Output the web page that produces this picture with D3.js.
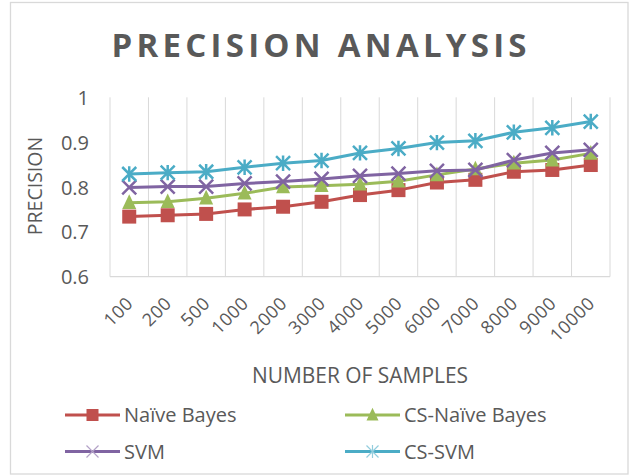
<!DOCTYPE html>
<html>
<head>
<meta charset="utf-8">
<script src="https://cdn.jsdelivr.net/npm/d3@7"></script>
<style>
  html, body { margin: 0; padding: 0; background: #fff; }
  svg { display: block; }
  text { font-family: "Open Sans", "Liberation Sans", sans-serif; fill: #595959; }
</style>
</head>
<body>
<svg id="chart" width="631" height="476"></svg>
<script>
const categories = ["100","200","500","1000","2000","3000","4000","5000","6000","7000","8000","9000","10000"];
const naiveBayes   = [0.734,0.737,0.740,0.750,0.756,0.767,0.782,0.793,0.810,0.816,0.834,0.838,0.849];
const csNaiveBayes = [0.765,0.767,0.775,0.786,0.800,0.803,0.806,0.813,0.827,0.840,0.853,0.860,0.875];
const svm          = [0.799,0.801,0.801,0.808,0.812,0.818,0.825,0.830,0.836,0.838,0.860,0.876,0.883];
const csSvm        = [0.829,0.832,0.834,0.844,0.853,0.859,0.876,0.886,0.899,0.903,0.922,0.932,0.946];
const yTicks = [0.6, 0.7, 0.8, 0.9, 1];

const seriesNames = ["Naïve Bayes","CS-Naïve Bayes","SVM","CS-SVM"];
const seriesColors = ["#C0504D","#9BBB59","#8064A2","#4BACC6"];
const seriesMarkers = ["square","triangle","x","star"];
const seriesData = [naiveBayes, csNaiveBayes, svm, csSvm];

const svg = d3.select("#chart");
const plot = {left: 110, right: 610, top: 97.3, bottom: 276.7};

// outer frame
svg.append("rect").attr("x", 10.5).attr("y", 2.5).attr("width", 617.5).attr("height", 471.5)
  .attr("fill", "#fff").attr("stroke", "#d9d9d9").attr("stroke-width", 1.3);

const x = d3.scaleBand().domain(categories).range([plot.left, plot.right]).padding(0);
const y = d3.scaleLinear().domain([0.6, 1]).range([plot.bottom, plot.top]);

// vertical gridlines at band boundaries
const bounds = categories.map(c => x(c)).concat([plot.right]);
svg.append("g").selectAll("line").data(bounds).join("line")
  .attr("x1", d => d).attr("x2", d => d)
  .attr("y1", plot.top).attr("y2", plot.bottom)
  .attr("stroke", "#d9d9d9").attr("stroke-width", 1);
svg.append("line").attr("x1", plot.left).attr("x2", plot.right)
  .attr("y1", plot.bottom).attr("y2", plot.bottom)
  .attr("stroke", "#d9d9d9").attr("stroke-width", 1.3);

// y axis
const yAxis = d3.axisLeft(y).tickValues(yTicks).tickSize(0).tickPadding(0)
  .tickFormat(d => d === 1 ? "1" : d3.format(".1f")(d));
const gy = svg.append("g").attr("transform", `translate(${plot.left - 21},0)`).call(yAxis);
gy.select(".domain").remove();
gy.selectAll("text").style("font-size", "20px").attr("fill", "#595959").attr("dy", "0.35em");

// x axis
const xAxis = d3.axisBottom(x).tickSize(0).tickPadding(0);
const gx = svg.append("g").attr("transform", `translate(0,${plot.bottom})`).call(xAxis);
gx.select(".domain").remove();
gx.selectAll(".tick text")
  .style("font-size", "18px").style("letter-spacing", "0.5px").attr("fill", "#595959")
  .attr("text-anchor", "end").attr("dy", null).attr("y", null)
  .attr("transform", "translate(5,28) rotate(-45)");

// axis titles
svg.append("text").attr("x", 360).attr("y", 383).attr("text-anchor", "middle")
  .style("font-size", "21px").attr("textLength", 216).attr("lengthAdjust", "spacingAndGlyphs")
  .text("NUMBER OF SAMPLES");
svg.append("text").attr("transform", "translate(42,186) rotate(-90)").attr("text-anchor", "middle")
  .style("font-size", "19.5px").text("PRECISION");

// title
svg.append("text").attr("x", 111.5).attr("y", 57)
  .attr("textLength", 415).attr("lengthAdjust", "spacing")
  .style("font-size", "33px").style("font-weight", "bold").text("PRECISION  ANALYSIS");

// markers
function drawMarker(g, type, cx, cy, color, s, legend) {
  if (type === "square") {
    g.append("rect").attr("x", cx - s/2).attr("y", cy - s/2).attr("width", s).attr("height", s)
      .attr("fill", color);
  } else if (type === "triangle") {
    const h = s;
    g.append("path").attr("d", `M${cx},${cy - h*0.6}L${cx + s/2},${cy + h*0.45}L${cx - s/2},${cy + h*0.45}Z`)
      .attr("fill", color);
  } else if (type === "x") {
    const r = s/2;
    g.append("path").attr("d", `M${cx-r},${cy-r}L${cx+r},${cy+r}M${cx-r},${cy+r}L${cx+r},${cy-r}`)
      .attr("stroke", legend ? "#B3A2C7" : color).attr("stroke-width", legend ? 1.2 : 2.5).attr("fill", "none");
  } else if (type === "star") {
    const r = s/2;
    g.append("path").attr("d", `M${cx-r},${cy-r}L${cx+r},${cy+r}M${cx-r},${cy+r}L${cx+r},${cy-r}M${cx},${cy-r*1.1}L${cx},${cy+r*1.1}`)
      .attr("stroke", legend ? "#93CDDD" : color).attr("stroke-width", legend ? 1.2 : 2.5).attr("fill", "none");
  }
}

const line = d3.line().x((d, i) => x(categories[i]) + x.bandwidth()/2).y(d => y(d));
seriesData.forEach((data, k) => {
  const g = svg.append("g");
  g.append("path").datum(data).attr("d", line)
    .attr("fill", "none").attr("stroke", seriesColors[k]).attr("stroke-width", 3)
    .attr("stroke-linejoin", "round");
  data.forEach((v, i) => {
    drawMarker(g, seriesMarkers[k], x(categories[i]) + x.bandwidth()/2, y(v), seriesColors[k], 14, false);
  });
});

// legend
const legendPos = [[65, 415], [345, 415], [65, 451.5], [345, 451.5]];
seriesNames.forEach((name, k) => {
  const [lx, ly] = legendPos[k];
  const g = svg.append("g");
  g.append("line").attr("x1", lx).attr("x2", lx + 55).attr("y1", ly).attr("y2", ly)
    .attr("stroke", seriesColors[k]).attr("stroke-width", 3);
  drawMarker(g, seriesMarkers[k], lx + 27.5, ly, seriesColors[k], 12, true);
  g.append("text").attr("x", lx + 59).attr("y", ly).attr("dy", "0.35em")
    .style("font-size", "20px").text(name);
});
</script>
</body>
</html>
